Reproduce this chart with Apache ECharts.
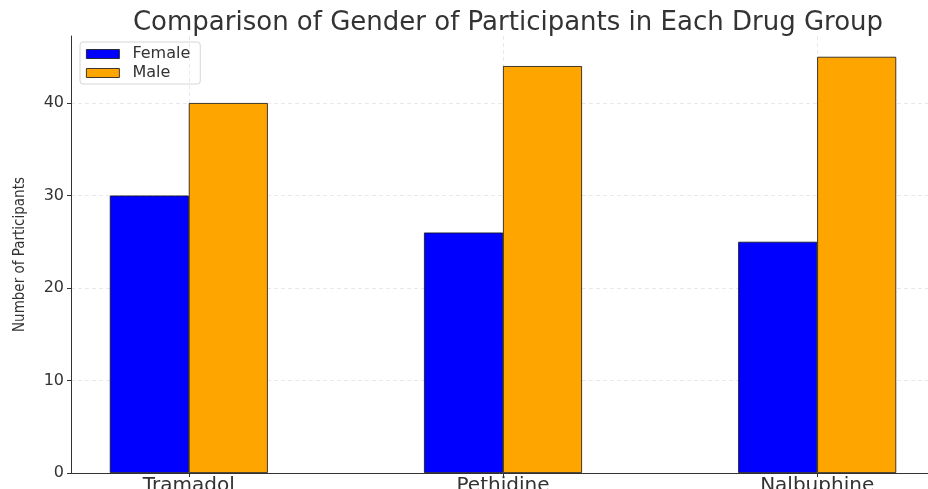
<!DOCTYPE html>
<html>
<head>
<meta charset="utf-8">
<script src="https://cdn.jsdelivr.net/npm/echarts@6/dist/echarts.min.js"></script>
<style>
  html, body { margin: 0; padding: 0; background: #fff; }
  #chart { width: 928px; height: 489px; }
</style>
</head>
<body>
<div id="chart"></div>
<script>
// Drug groups and participant counts by gender
const drugGroups = ['Tramadol', 'Pethidine', 'Nalbuphine'];
const femaleCounts = [30, 26, 25];
const maleCounts = [40, 44, 45];
const yTicks = [0, 10, 20, 30, 40];

const groupPositions = drugGroups.map((_, i) => i);
const femaleData = groupPositions.map((x, i) => [x, femaleCounts[i]]);
const maleData = groupPositions.map((x, i) => [x, maleCounts[i]]);

const chart = echarts.init(document.getElementById('chart'), null, { renderer: 'canvas' });
const textColor = '#333';
const gridLine = { show: true, lineStyle: { color: '#e3e3e3', type: [4, 3], width: 0.8 } };

chart.setOption({
  animation: false,
  backgroundColor: '#fff',
  title: {
    text: 'Comparison of Gender of Participants in Each Drug Group',
    left: 503, top: 5, textAlign: 'center',
    textStyle: { fontFamily: 'DejaVu Sans', fontSize: 26, fontWeight: 'normal', color: textColor }
  },
  legend: {
    orient: 'vertical',
    left: 80, top: 42,
    padding: [4, 10, 3, 6],
    itemGap: 3,
    itemWidth: 33, itemHeight: 9,
    icon: 'rect',
    itemStyle: { borderWidth: 0.8 },
    borderColor: '#d6d6d6', borderWidth: 1, borderRadius: 3,
    textStyle: { fontFamily: 'DejaVu Sans', fontSize: 16, lineHeight: 14, color: textColor, padding: [0, 0, 0, 8] },
    data: ['Female', 'Male']
  },
  grid: { left: 71, top: 36, width: 864, bottom: 16, containLabel: false, outerBoundsMode: 'none' },
  xAxis: {
    type: 'value',
    min: -0.375, max: 2.375,
    axisLine: { show: true, onZero: false, lineStyle: { color: '#333', width: 1 } },
    axisTick: { show: true, customValues: groupPositions, length: 4, lineStyle: { color: '#333' } },
    axisLabel: {
      customValues: groupPositions,
      formatter: v => drugGroups[Math.round(v)],
      fontFamily: 'DejaVu Sans', fontSize: 20, color: textColor, margin: 3
    },
    splitLine: gridLine
  },
  yAxis: {
    type: 'value',
    min: 0, max: 47.25,
    interval: 10,
    name: 'Number of Participants',
    nameLocation: 'middle',
    nameGap: 43,
    nameTextStyle: { fontFamily: "'DejaVu Sans Condensed', 'Liberation Sans', sans-serif", fontSize: 15, color: textColor },
    axisLine: { show: true, onZero: false, lineStyle: { color: '#333', width: 1 } },
    axisTick: { show: true, customValues: yTicks, length: 4, lineStyle: { color: '#333' } },
    axisLabel: {
      customValues: yTicks,
      fontFamily: 'DejaVu Sans', fontSize: 16, color: textColor, margin: 7
    },
    splitLine: gridLine
  },
  series: [
    {
      name: 'Female', type: 'bar', data: femaleData,
      barWidth: 79, barGap: '0%',
      itemStyle: { color: '#0000ff', borderColor: '#111', borderWidth: 0.8 }
    },
    {
      name: 'Male', type: 'bar', data: maleData,
      barWidth: 79, barGap: '0%',
      itemStyle: { color: '#ffa500', borderColor: '#111', borderWidth: 0.8 }
    }
  ]
});
</script>
</body>
</html>
